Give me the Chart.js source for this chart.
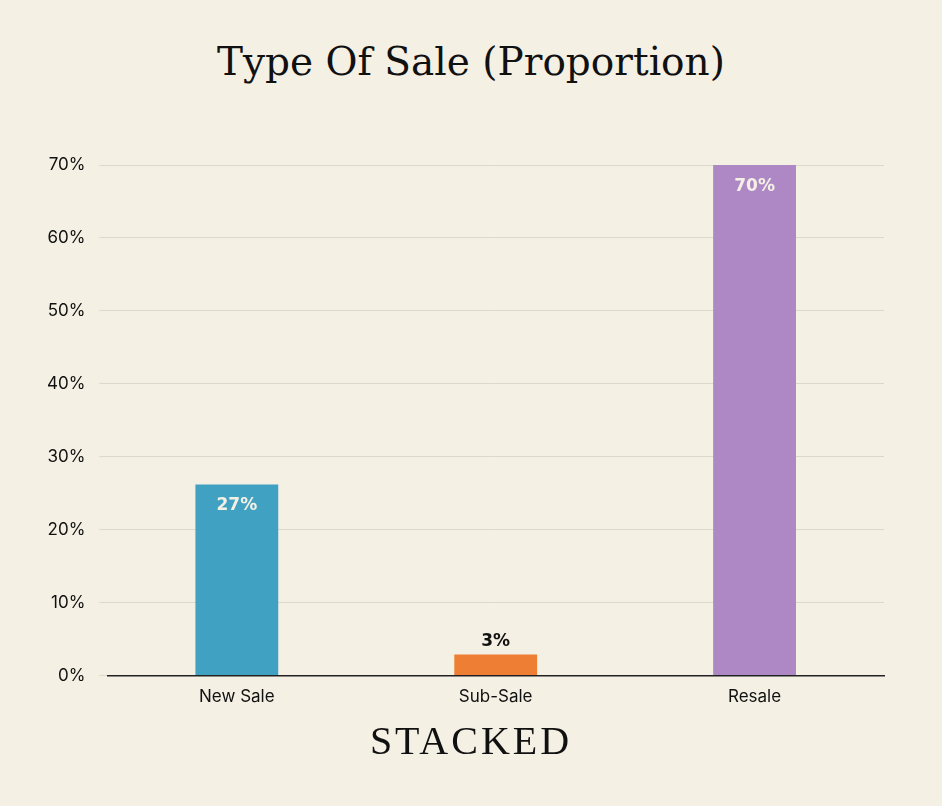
<!DOCTYPE html>
<html><head><meta charset="utf-8">
<script src="https://cdn.jsdelivr.net/npm/chart.js@4"></script>
<style>
body{margin:0;background:#f4f0e4;}
#wrap{position:relative;width:942px;height:806px;}
#title{position:absolute;top:39px;width:942px;text-align:center;font-family:"DejaVu Serif",serif;font-size:39px;color:#111;}
#logo{position:absolute;top:717px;width:942px;text-align:center;font-family:"Liberation Serif",serif;font-size:40px;letter-spacing:3px;color:#111;}
canvas{position:absolute;left:0;top:0;}
</style></head><body>
<div id="wrap">
<div id="title">Type Of Sale (Proportion)</div>
<canvas id="c" width="942" height="806"></canvas>
<div id="logo">STACKED</div>
</div>
<script>
const categories = ['New Sale', 'Sub-Sale', 'Resale'];
const values = [26.2, 2.9, 70];
const valueLabels = ['27%', '3%', '70%'];
const barColors = ['#40a1c2', '#ee7e33', '#ad88c5'];

const labelPlugin = {
    id: 'barLabels',
    afterDatasetsDraw(chart) {
        const ctx = chart.ctx;
        const meta = chart.getDatasetMeta(0);
        ctx.save();
        ctx.font = 'bold 17px "DejaVu Sans", sans-serif';
        ctx.textAlign = 'center';
        meta.data.forEach((bar, i) => {
            const small = (bar.base - bar.y) < 40;
            ctx.fillStyle = small ? '#111' : '#f4f0e4';
            ctx.textBaseline = small ? 'bottom' : 'top';
            ctx.fillText(valueLabels[i], bar.x, small ? bar.y - 4 : bar.y + 13);
        });
        ctx.restore();
    }
};

new Chart(document.getElementById('c'), {
    type: 'bar',
    data: {
        labels: categories,
        datasets: [{ data: values, backgroundColor: barColors, barPercentage: 0.32, categoryPercentage: 1 }]
    },
    options: {
        responsive: false,
        animation: false,
        layout: { padding: { top: 165, bottom: 96, left: 33, right: 58 } },
        plugins: { legend: { display: false }, tooltip: { enabled: false } },
        scales: {
            x: {
                grid: { display: false },
                border: { color: '#222', width: 1.5 },
                ticks: { color: '#111', font: { size: 17, family: 'Inter' } }
            },
            y: {
                min: 0, max: 70,
                ticks: { stepSize: 10, color: '#111', padding: 14, font: { size: 17, family: 'Inter' }, callback: v => v + '%' },
                grid: { color: '#dcd8cb' },
                border: { display: false }
            }
        }
    },
    plugins: [labelPlugin]
});
</script>
</body></html>
